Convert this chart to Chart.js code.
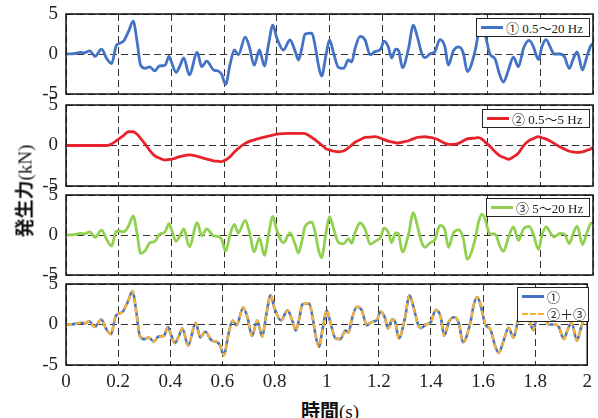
<!DOCTYPE html>
<html><head><meta charset="utf-8">
<script src="https://cdn.jsdelivr.net/npm/chart.js@4.4.0/dist/chart.umd.min.js"></script>
<style>
html,body{margin:0;padding:0;background:#fff;}
#wrap{position:relative;width:598px;height:418px;overflow:hidden;background:#fff;}
#wrap canvas{position:absolute;left:0;}
.leg{position:absolute;background:#fff;border:1px solid #222;box-sizing:border-box;font-family:'Liberation Serif','Noto Sans CJK JP',serif;font-size:13px;color:#222;padding:0 0 0 4px;}
.row{display:flex;align-items:center;height:17px;white-space:nowrap;}
.sw{display:inline-block;width:22px;height:0;margin-right:3px;}
.title{position:absolute;white-space:nowrap;color:#111;}
.cj{font-family:'Noto Sans CJK JP',sans-serif;font-weight:bold;font-size:19px;}
.sr{font-family:'Liberation Serif',serif;font-size:19px;}
</style></head>
<body><div id="wrap">
<canvas id="c1" width="598" height="120" style="top:-6px"></canvas>
<canvas id="c2" width="598" height="121" style="top:85px"></canvas>
<canvas id="c3" width="598" height="120" style="top:175px"></canvas>
<canvas id="c4" width="598" height="131" style="top:264px"></canvas>
<div class="leg" style="left:476px;top:18px;width:114px;height:19px"><div class="row"><span class="sw" style="border-top:3px solid #4472C4"></span><span id="l1"></span></div></div>
<div class="leg" style="left:482px;top:109px;width:108px;height:19px"><div class="row"><span class="sw" style="border-top:3px solid #E8222B"></span><span id="l2"></span></div></div>
<div class="leg" style="left:486px;top:198px;width:104px;height:19px"><div class="row"><span class="sw" style="border-top:3px solid #92D050"></span><span id="l3"></span></div></div>
<div class="leg" style="left:517px;top:287px;width:72px;height:35px"><div class="row"><span class="sw" style="border-top:3px solid #4472C4"></span><span id="l4a"></span></div><div class="row"><span class="sw" style="border-top:2.5px dashed #F9B233"></span><span id="l4b"></span></div></div>
<div class="title" style="left:23px;top:191px;transform:translate(-50%,-50%) rotate(-90deg)"><span class="cj">発生力</span><span class="sr">(kN)</span></div>
<div class="title" style="left:330px;top:409px;transform:translate(-50%,-50%)"><span class="cj">時間</span><span class="sr">(s)</span></div>
</div>
<script>
const seriesNames = ['① 0.5～20 Hz', '② 0.5～5 Hz', '③ 5～20 Hz', '①', '②＋③'];
const xTicks = [0,0.2,0.4,0.6,0.8,1,1.2,1.4,1.6,1.8,2];
const xTickLabels = ['0','0.2','0.4','0.6','0.8','1','1.2','1.4','1.6','1.8','2'];
const yTicks = [-5,0,5];
const yTickLabels = ['-5','0','5'];
const time = [
 0,0.03,0.055,0.07,0.09,0.11,0.135,0.155,0.173,0.19,
 0.2,0.218,0.237,0.255,0.27,0.283,0.3,0.318,0.337,0.354,
 0.376,0.391,0.4,0.418,0.432,0.447,0.468,0.498,0.515,0.534,
 0.56,0.575,0.59,0.606,0.622,0.639,0.654,0.68,0.696,0.714,
 0.734,0.753,0.768,0.785,0.8,0.825,0.85,0.87,0.882,0.895,
 0.907,0.933,0.945,0.958,0.97,0.987,1.0,1.017,1.034,1.053,
 1.072,1.084,1.097,1.116,1.135,1.154,1.173,1.194,1.207,1.223,
 1.236,1.251,1.261,1.277,1.3,1.318,1.333,1.35,1.362,1.381,
 1.4,1.419,1.438,1.451,1.47,1.49,1.508,1.523,1.552,1.565,
 1.578,1.59,1.609,1.628,1.647,1.66,1.679,1.698,1.717,1.736,
 1.758,1.774,1.793,1.806,1.822,1.84,1.852,1.875,1.891,1.91,
 1.925,1.94,1.96,1.976,1.991,2.0];
const force1 = [
 0,0.05,0.2,0.15,0.4,-0.3,0.6,-0.6,-1.2,1.0,
 1.3,1.6,2.8,4.1,1.5,-1.4,-1.8,-1.6,-2.1,-1.5,
 -1.4,-0.3,-1.0,-2.3,-1.5,-0.5,-2.6,0.2,-1.6,-0.9,
 -2.0,-2.1,-2.5,-3.8,-1.4,0.5,-0.1,2.1,0.9,-1.4,
 0.5,-1.5,1.1,3.6,2.0,0.5,1.75,0.3,-0.75,0.7,
 2.5,2.6,1.1,-1.4,-2.75,-0.1,1.75,-0.1,-1.7,-1.8,
 -0.75,-1.0,0.7,2.2,1.75,-0.1,0.3,0.6,1.6,0.9,
 -0.5,0.6,0.5,-1.7,0.7,3.6,2.2,0.1,-0.45,0.0,
 0.3,1.8,0.9,-1.4,0.4,0.9,0.1,-2.2,0.3,2.5,
 3.4,2.5,0.0,-0.6,-2.7,-3.5,-2.0,-0.4,-1.6,0.7,
 1.7,0.9,-0.7,0.9,1.8,0.7,0.0,0.0,-0.3,-1.8,
 -0.6,0.25,-2.0,-0.4,1.0,1.3];
const force2 = [
 0,0,0,0,0,0,0,0,0.18,0.56,
 0.79,1.22,1.7,1.7,1.39,0.89,0.19,-0.62,-1.29,-1.55,
 -1.79,-1.73,-1.7,-1.52,-1.38,-1.26,-1.15,-1.33,-1.5,-1.67,
 -1.9,-1.94,-1.98,-1.78,-1.4,-0.81,-0.36,0.26,0.51,0.69,
 0.88,1.04,1.16,1.29,1.4,1.47,1.5,1.5,1.5,1.49,
 1.46,0.99,0.71,0.39,0.06,-0.4,-0.55,-0.71,-0.77,-0.68,
 -0.29,0.04,0.4,0.7,1.0,1.04,1.09,0.9,0.73,0.55,
 0.45,0.33,0.31,0.42,0.59,0.82,1.0,1.05,1.08,1.0,
 0.86,0.6,0.27,0.15,0.15,0.27,0.58,0.81,0.92,0.98,
 0.8,0.45,-0.1,-0.75,-1.28,-1.45,-1.7,-1.4,-0.92,-0.05,
 0.63,0.85,1.1,0.96,0.79,0.51,0.26,-0.19,-0.43,-0.71,
 -0.8,-0.86,-0.8,-0.6,-0.42,-0.25];
const force3 = [
 0,0.05,0.2,0.15,0.4,-0.3,0.6,-0.6,-1.38,0.44,
 0.51,0.38,1.1,2.4,0.11,-2.29,-1.99,-0.98,-0.81,0.05,
 0.39,1.43,0.7,-0.78,-0.12,0.76,-1.45,1.53,-0.1,0.77,
 -0.1,-0.16,-0.52,-2.02,0,1.31,0.26,1.84,0.39,-2.09,
 -0.38,-2.54,-0.06,2.31,0.6,-0.97,0.25,-1.2,-2.25,-0.79,
 1.04,1.61,0.39,-1.79,-2.81,0.3,2.3,0.61,-0.93,-1.12,
 -0.46,-1.04,0.3,1.5,0.75,-1.14,-0.79,-0.3,0.87,0.35,
 -0.95,0.27,0.19,-2.12,0.11,2.78,1.2,-0.95,-1.53,-1.0,
 -0.56,1.2,0.63,-1.55,0.25,0.63,-0.48,-3.01,-0.62,1.52,
 2.6,2.05,0.1,0.15,-1.42,-2.05,-0.3,1.0,-0.68,0.75,
 1.07,0.05,-1.8,-0.06,1.01,0.19,-0.26,0.19,0.13,-1.09,
 0.2,1.11,-1.2,0.2,1.42,1.55];

document.getElementById('l1').textContent = seriesNames[0];
document.getElementById('l2').textContent = seriesNames[1];
document.getElementById('l3').textContent = seriesNames[2];
document.getElementById('l4a').textContent = seriesNames[3];
document.getElementById('l4b').textContent = seriesNames[4];

const pts = arr => time.map((t, i) => ({x: t, y: arr[i]}));
const sum23 = force2.map((v, i) => v + force3[i]);

const frame = {id: 'frame', afterDatasetsDraw(c) {
  const a = c.chartArea, ctx = c.ctx;
  ctx.save(); ctx.strokeStyle = '#111'; ctx.lineWidth = 1.5; ctx.setLineDash([]);
  ctx.strokeRect(a.left, a.top, a.right - a.left, a.bottom - a.top);
  ctx.restore();
}};

const tickFont = {family: "'Liberation Serif', 'Times New Roman', serif", size: 19};
function makeChart(id, datasets, isBottom) {
  return new Chart(document.getElementById(id), {
    type: 'line',
    data: {datasets},
    options: {
      responsive: false, animation: false, devicePixelRatio: 1,
      layout: {padding: {top: 20, bottom: isBottom ? 0 : 20, left: 0, right: 5}},
      plugins: {legend: {display: false}, tooltip: {enabled: false}},
      elements: {point: {radius: 0}, line: {cubicInterpolationMode: 'monotone'}},
      scales: {
        x: {type: 'linear', min: 0, max: 2,
          afterBuildTicks: s => { s.ticks = xTicks.map(v => ({value: v})); },
          afterFit: s => { s.height = isBottom ? 30 : 0; },
          grid: {color: '#333', lineWidth: 1, drawTicks: false},
          border: {display: false, dash: [7, 4]},
          ticks: {display: isBottom, padding: 6, color: '#222', font: tickFont, maxRotation: 0, autoSkip: false,
            callback: (v, i) => xTickLabels[i]}},
        y: {min: -5, max: 5,
          afterBuildTicks: s => { s.ticks = yTicks.map(v => ({value: v})); },
          afterFit: s => { s.width = 66; },
          grid: {color: '#333', lineWidth: 1, drawTicks: false},
          border: {display: false, dash: [7, 4]},
          ticks: {padding: 8, color: '#222', font: tickFont, callback: (v, i) => yTickLabels[i]}}
      }
    },
    plugins: [frame]
  });
}

makeChart('c1', [{label: seriesNames[0], data: pts(force1), borderColor: '#4472C4', borderWidth: 2.8}], false);
makeChart('c2', [{label: seriesNames[1], data: pts(force2), borderColor: '#E8222B', borderWidth: 2.8}], false);
makeChart('c3', [{label: seriesNames[2], data: pts(force3), borderColor: '#92D050', borderWidth: 2.8}], false);
makeChart('c4', [
  {label: seriesNames[4], data: pts(sum23), borderColor: '#F9B233', borderWidth: 2.3, borderDash: [6, 3]},
  {label: seriesNames[3], data: pts(force1), borderColor: '#4472C4', borderWidth: 2.6}
], true);
</script>
</body></html>
